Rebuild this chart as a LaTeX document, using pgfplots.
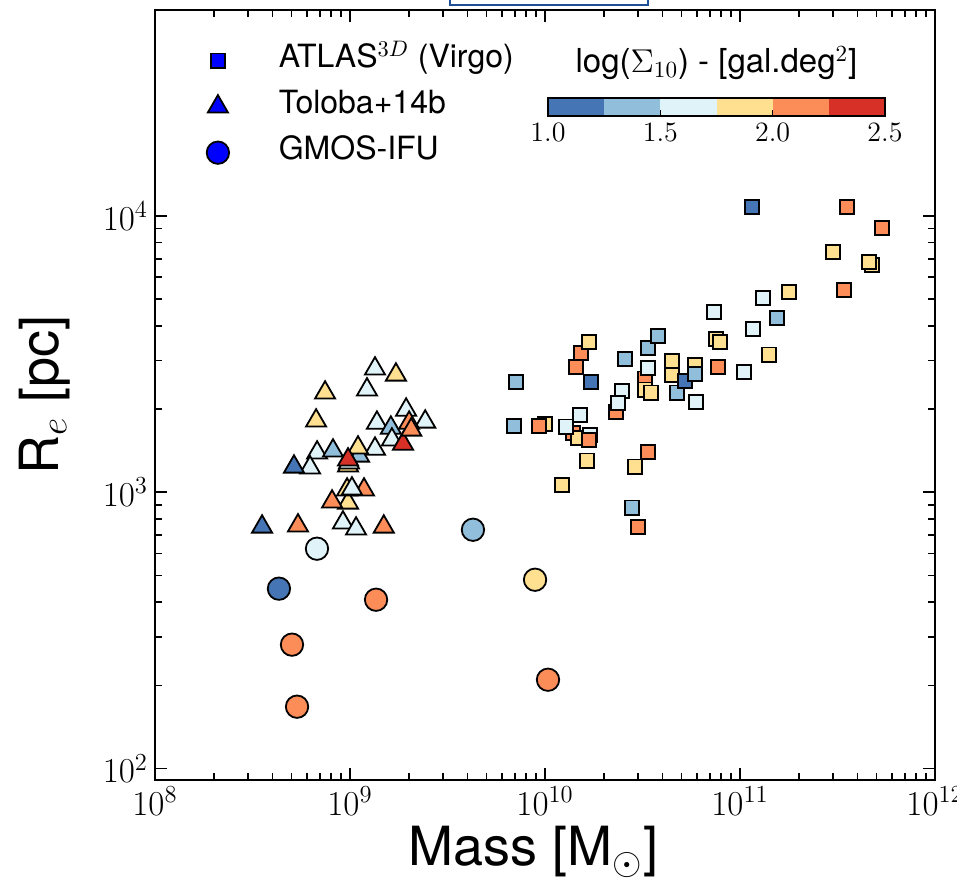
\RequirePackage{fix-cm}
\documentclass[border=0pt]{standalone}
\usepackage{fontspec}
\usepackage{pgfplots}
\usepackage{pgfplotstable}
\pgfplotsset{compat=1.18}
\newfontfamily\hel{TeX Gyre Heros}
\definecolor{ca}{RGB}{69,117,180}
\definecolor{cb}{RGB}{145,191,219}
\definecolor{cc}{RGB}{224,243,248}
\definecolor{cd}{RGB}{254,224,144}
\definecolor{ce}{RGB}{252,141,89}
\definecolor{cf}{RGB}{215,48,39}
\definecolor{boxblue}{RGB}{30,80,150}

\pgfplotstableread{
x y c
1.152e11 10778 a
3.54e11 10778 e
5.35e11 9051 e
3.0e11 7410 d
4.75e11 6649 d
4.59e11 6817 d
3.415e11 5400 e
1.784e11 5310 d
1.312e11 5051 c
1.547e11 4278 b
7.36e10 4496 c
1.166e11 3902 c
7.53e10 3591 d
7.90e10 3502 d
1.408e11 3144 d
1.442e10 2844 e
1.530e10 3195 e
1.681e10 3502 d
1.721e10 2509 a
7.10e9 2509 b
2.572e10 3040 b
3.375e10 3332 b
3.80e10 3681 b
3.257e10 2574 e
3.375e10 2820 c
3.257e10 2349 d
3.496e10 2291 d
4.48e10 2989 d
4.48e10 2661 d
4.75e10 2291 b
5.22e10 2531 a
5.88e10 2891 d
5.88e10 2683 b
7.71e10 2844 e
1.048e11 2728 c
5.95e10 2125 c
2.313e10 1955 e
2.483e10 2329 c
2.368e10 2107 c
6.93e9 1740 b
1.0e10 1769 d
9.32e9 1740 e
1.512e10 1907 c
1.392e10 1641 e
1.476e10 1574 d
1.281e10 1726 c
1.701e10 1614 c
1.681e10 1548 e
1.642e10 1300 d
3.375e10 1401 e
2.894e10 1237 d
1.223e10 1064 d
2.794e10 879 b
3.0e10 750 e
}\atlas

\pgfplotstableread{
x y c
1.343e9 2799 c
1.72e9 2661 d
7.45e8 2291 d
1.222e9 2350 c
1.94e9 1987 c
6.70e8 1815 d
1.374e9 1782 c
2.43e9 1799 c
1.62e9 1710 b
1.64e9 1549 c
1.87e9 1497 f
2.01e9 1782 e
2.06e9 1683 e
1.343e9 1435 c
1.112e9 1355 b
1.099e9 1449 d
6.78e8 1390 c
8.18e8 1413 b
6.24e8 1227 c
5.16e8 1236 a
9.77e8 1247 d
9.88e8 1279 c
9.77e8 1312 f
9.77e8 916 d
8.09e8 924 e
1.18e9 1021 e
9.66e8 1021 d
1.023e9 1030 c
9.2e8 776 c
1.074e9 738 c
5.41e8 757 e
1.49e9 750 e
3.54e8 750 a
}\toloba

\pgfplotstableread{
x y c
6.77e8 625 c
4.27e9 732 b
4.32e8 448 a
1.36e9 408.6 e
8.89e9 482.6 d
5.04e8 281 e
1.036e10 209.8 e
5.35e8 167.6 e
}\gmos

\pgfplotsset{
  sigclasses/.style={
    scatter, only marks, forget plot,
    point meta=explicit symbolic,
    line width=0.9pt, draw=black,
    scatter/classes={
      a={draw=black,fill=ca}, b={draw=black,fill=cb}, c={draw=black,fill=cc},
      d={draw=black,fill=cd}, e={draw=black,fill=ce}, f={draw=black,fill=cf}}
  }
}

\begin{document}
\begin{tikzpicture}
\begin{axis}[
  name=main,
  at={(0pt,0pt)}, anchor=south west,
  width=390pt, height=385pt, scale only axis,
  xmode=log, ymode=log,
  xmin=1e8, xmax=1e12, ymin=91, ymax=55600,
  xtick={1e8,1e9,1e10,1e11,1e12},
  ytick={1e2,1e3,1e4},
  tick align=inside,
  major tick length=6pt, minor tick length=3.5pt,
  every tick/.style={black, line width=0.8pt},
  axis line style={line width=1pt},
  tick label style={font=\fontsize{17.5}{20}\selectfont},
  label style={font=\hel\fontsize{27}{30}\selectfont},
  xlabel={Mass [M$_\odot$]},
  ylabel={R$_e$ [pc]},
  xlabel style={at={(axis description cs:0.485,0)}, anchor=base, yshift=-43pt},
  ylabel style={at={(axis description cs:-0.124,0.5)}, anchor=base},
  legend style={draw=none, fill=none, at={(axis description cs:0.0487,0.964)},
    anchor=north west, inner sep=0pt, outer sep=0pt, row sep=0pt,
    font=\hel\fontsize{16}{19}\selectfont,
    nodes={inner sep=0pt, text height=15pt, text depth=8pt}},
  legend cell align=left,
  legend image code/.code={\path (0pt,0pt) (42pt,0pt); \draw[mark repeat=2,mark phase=2,#1] plot coordinates {(0pt,0pt)(12pt,0pt)(42pt,0pt)};},
]
\addlegendimage{only marks, mark=square*, mark size=3.6pt, draw=black, fill=blue, line width=0.9pt}
\addlegendentry{ATLAS$^{3D}$ (Virgo)}
\addlegendimage{only marks, mark=triangle*, mark size=5.8pt, draw=black, fill=blue, line width=0.9pt}
\addlegendentry{Toloba+14b}
\addlegendimage{only marks, mark=*, mark size=5.6pt, draw=black, fill=blue, line width=0.9pt}
\addlegendentry{GMOS-IFU}

\addplot[sigclasses, mark=square*, mark size=3.6pt] table[x=x,y=y,meta=c] {\atlas};
\addplot[sigclasses, mark=triangle*, mark size=5.8pt] table[x=x,y=y,meta=c] {\toloba};
\addplot[sigclasses, mark=*, mark size=5.6pt] table[x=x,y=y,meta=c] {\gmos};
\end{axis}

\begin{axis}[
  at={(196.5pt,332pt)}, anchor=south west,
  width=168.5pt, height=9pt, scale only axis,
  xmin=1, xmax=2.5, ymin=0, ymax=1,
  xtick={1,1.5,2,2.5}, xticklabels={$1.0$,$1.5$,$2.0$,$2.5$},
  ytick=\empty,
  xtick pos=left, tick align=inside, major tick length=3pt,
  every tick/.style={black, line width=0.6pt},
  axis line style={line width=0.9pt},
  ticklabel style={font=\fontsize{14}{16}\selectfont},
  axis on top, no markers,
  title={log($\Sigma_{10}$) - [gal.deg$^2$]},
  title style={at={(axis description cs:0.5,1)}, anchor=base, yshift=6.5pt, font=\hel\fontsize{16.5}{19}\selectfont},
]
\addplot[fill=ca, draw=none, forget plot] coordinates {(1,1) (1.25,1)} \closedcycle;
\addplot[fill=cb, draw=none, forget plot] coordinates {(1.25,1) (1.5,1)} \closedcycle;
\addplot[fill=cc, draw=none, forget plot] coordinates {(1.5,1) (1.75,1)} \closedcycle;
\addplot[fill=cd, draw=none, forget plot] coordinates {(1.75,1) (2,1)} \closedcycle;
\addplot[fill=ce, draw=none, forget plot] coordinates {(2,1) (2.25,1)} \closedcycle;
\addplot[fill=cf, draw=none, forget plot] coordinates {(2.25,1) (2.5,1)} \closedcycle;
\end{axis}

\draw[boxblue, line width=1.2pt] (147.5pt,392pt) -- (147.5pt,387.5pt) -- (246.5pt,387.5pt) -- (246.5pt,392pt);
\pgfresetboundingbox
\path (-77.5pt,-51pt) rectangle (401pt,390pt);
\end{tikzpicture}
\end{document}
